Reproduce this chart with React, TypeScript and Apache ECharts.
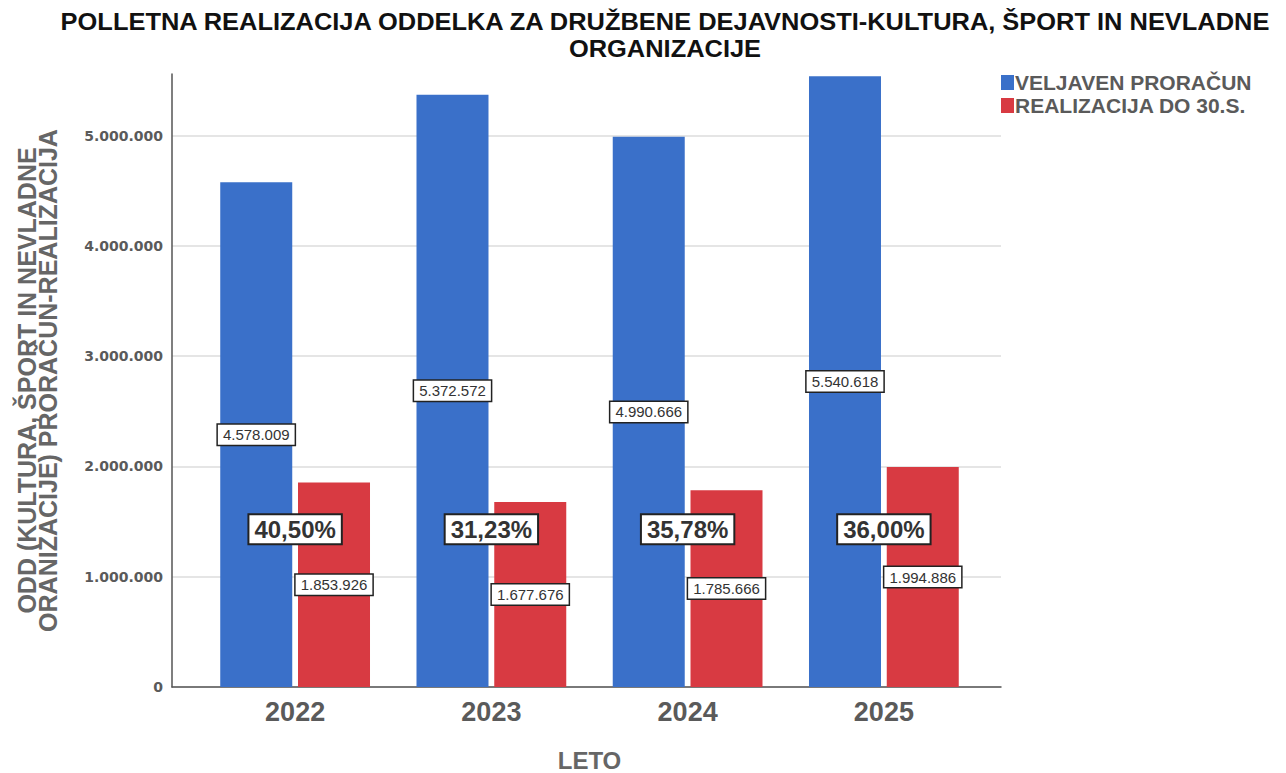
import React, { useEffect, useRef } from "react";
import * as echarts from "echarts";

const TITLE_LINES = [
  "POLLETNA REALIZACIJA ODDELKA ZA DRUŽBENE DEJAVNOSTI-KULTURA, ŠPORT IN NEVLADNE",
  "ORGANIZACIJE",
];
const Y_NAME = "ODD (KULTURA, ŠPORT IN NEVLADNE\nORANIZACIJE) PRORAČUN-REALIZACIJA";
const X_NAME = "LETO";
const categories = ["2022", "2023", "2024", "2025"];
const seriesNames = ["VELJAVEN PRORAČUN", "REALIZACIJA DO 30.S."];
const budget = [4578009, 5372572, 4990666, 5540618];
const realized = [1853926, 1677676, 1785666, 1994886];
const Y_MAX = 5560000;
const Y_TICK_MAX = 5000000;
const Y_INTERVAL = 1000000;
const PCT_LABEL_LEVEL = 1430000;

const BLUE = "#3a70c9";
const RED = "#d83a42";
const GREY = "#5a5a5a";

const fmt = (v: number) => String(Math.round(v)).replace(/\B(?=(\d{3})+(?!\d))/g, ".");
const pct = (i: number) => ((realized[i] / budget[i]) * 100).toFixed(2).replace(".", ",") + "%";

const PLOT_BOTTOM = 773 - 687;
const PX_PER_UNIT = 613 / Y_MAX;

export default function App() {
  const ref = useRef<HTMLDivElement>(null);
  useEffect(() => {
    if (!ref.current) return;
    const chart = echarts.init(ref.current, undefined, { renderer: "svg" });
    const valueLabel = {
      show: true,
      position: "inside" as const,
      formatter: (p: any) => fmt(p.value),
      backgroundColor: "#fff",
      borderColor: "#222",
      borderWidth: 1.5,
      padding: [3, 5, 2, 5],
      color: "#333",
      fontSize: 15,
      fontFamily: "Liberation Sans, Arial, sans-serif",
    };
    const plotHeight = Y_MAX * PX_PER_UNIT;
    const tickHeight = Y_TICK_MAX * PX_PER_UNIT;
    const gridBase = { outerBoundsMode: "none", containLabel: false, bottom: PLOT_BOTTOM };
    const titleStyle = {
      align: "center",
      verticalAlign: "middle",
      fontFamily: "Liberation Sans Narrow, Arial Narrow, Liberation Sans, sans-serif",
      fontWeight: "bold",
      fontSize: 24,
      lineHeight: 22,
      fill: "#111",
    };
    chart.setOption({
      animation: false,
      backgroundColor: "#fff",
      graphic: TITLE_LINES.map((t, i) => ({
        type: "text",
        x: 665,
        y: 22 + i * 27,
        scaleX: 1.06,
        style: { ...titleStyle, text: t },
      })),
      legend: {
        orient: "vertical",
        left: 996,
        top: 67,
        itemGap: 2,
        itemWidth: 13,
        itemHeight: 15,
        icon: "rect",
        data: seriesNames,
        textStyle: {
          fontFamily: "Liberation Sans, Arial, sans-serif",
          fontWeight: "bold",
          fontSize: 21,
          color: GREY,
          padding: [0, 0, 0, -4],
        },
      },
      grid: [
        { ...gridBase, left: 172, right: 1286 - 1001, top: 773 - PLOT_BOTTOM - plotHeight },
        { ...gridBase, left: 197, right: 1286 - 982, top: 773 - PLOT_BOTTOM - plotHeight },
        { ...gridBase, left: 172, right: 1286 - 1001, top: 773 - PLOT_BOTTOM - tickHeight },
      ],
      xAxis: [
        {
          type: "value",
          gridIndex: 0,
          min: 0,
          max: 1,
          axisLine: { show: true, lineStyle: { color: "#555", width: 1.5 } },
          axisTick: { show: false },
          axisLabel: { show: false },
          splitLine: { show: false },
        },
        {
          type: "category",
          gridIndex: 1,
          data: categories,
          axisLine: { show: false },
          axisTick: { show: false },
          axisLabel: {
            margin: 11,
            fontSize: 27,
            fontWeight: "bold",
            color: GREY,
            fontFamily: "Liberation Sans, Arial, sans-serif",
          },
          name: X_NAME,
          nameLocation: "middle",
          nameGap: 63,
          nameTextStyle: {
            fontSize: 24,
            lineHeight: 20,
            fontWeight: "bold",
            color: "#666",
            fontFamily: "Liberation Sans, Arial, sans-serif",
          },
        },
        {
          type: "value",
          gridIndex: 2,
          min: 0,
          max: 1,
          show: false,
        },
      ],
      yAxis: [
        {
          type: "value",
          gridIndex: 0,
          min: 0,
          max: Y_MAX,
          axisLine: { show: true, lineStyle: { color: "#555", width: 1.5 } },
          axisTick: { show: false },
          splitLine: { show: false },
          axisLabel: { show: false },
          name: Y_NAME,
          nameLocation: "middle",
          nameGap: 114,
          nameTextStyle: {
            fontSize: 25,
            lineHeight: 21,
            fontWeight: "bold",
            color: "#666",
            fontFamily: "Liberation Sans, Arial, sans-serif",
          },
        },
        {
          type: "value",
          gridIndex: 1,
          min: 0,
          max: Y_MAX,
          show: false,
          splitLine: { show: false },
        },
        {
          type: "value",
          gridIndex: 2,
          min: 0,
          max: Y_TICK_MAX,
          interval: Y_INTERVAL,
          axisLine: { show: false },
          axisTick: { show: false },
          splitLine: { show: true, lineStyle: { color: "#dcdcdc", width: 1.5 } },
          axisLabel: {
            formatter: (v: number) => fmt(v),
            margin: 9,
            fontSize: 14,
            fontWeight: "bold",
            color: GREY,
            fontFamily: "DejaVu Sans, sans-serif",
          },
        },
      ],
      series: [
        {
          name: seriesNames[0],
          type: "bar",
          xAxisIndex: 1,
          yAxisIndex: 1,
          data: budget,
          barWidth: 72,
          barGap: "8%",
          z: 3,
          itemStyle: { color: BLUE },
          label: valueLabel,
        },
        {
          name: seriesNames[1],
          type: "bar",
          xAxisIndex: 1,
          yAxisIndex: 1,
          data: realized,
          barWidth: 72,
          barGap: "8%",
          z: 3,
          itemStyle: { color: RED },
          label: valueLabel,
        },
        {
          name: "pct",
          type: "scatter",
          xAxisIndex: 1,
          yAxisIndex: 1,
          z: 10,
          symbolSize: 1,
          itemStyle: { color: "rgba(0,0,0,0)", opacity: 1 },
          data: categories.map(() => PCT_LABEL_LEVEL),
          label: {
            show: true,
            position: "inside",
            formatter: (p: any) => pct(p.dataIndex),
            backgroundColor: "#fff",
            borderColor: "#222",
            borderWidth: 2,
            padding: [3, 5, 1, 5],
            color: "#333",
            fontSize: 24,
            fontWeight: "bold",
            fontFamily: "Liberation Sans, Arial, sans-serif",
          },
        },
      ],
    });
    return () => chart.dispose();
  }, []);
  return (
    <div
      ref={ref}
      style={{ position: "fixed", left: 0, top: 0, width: 1286, height: 773, background: "#fff" }}
    />
  );
}
